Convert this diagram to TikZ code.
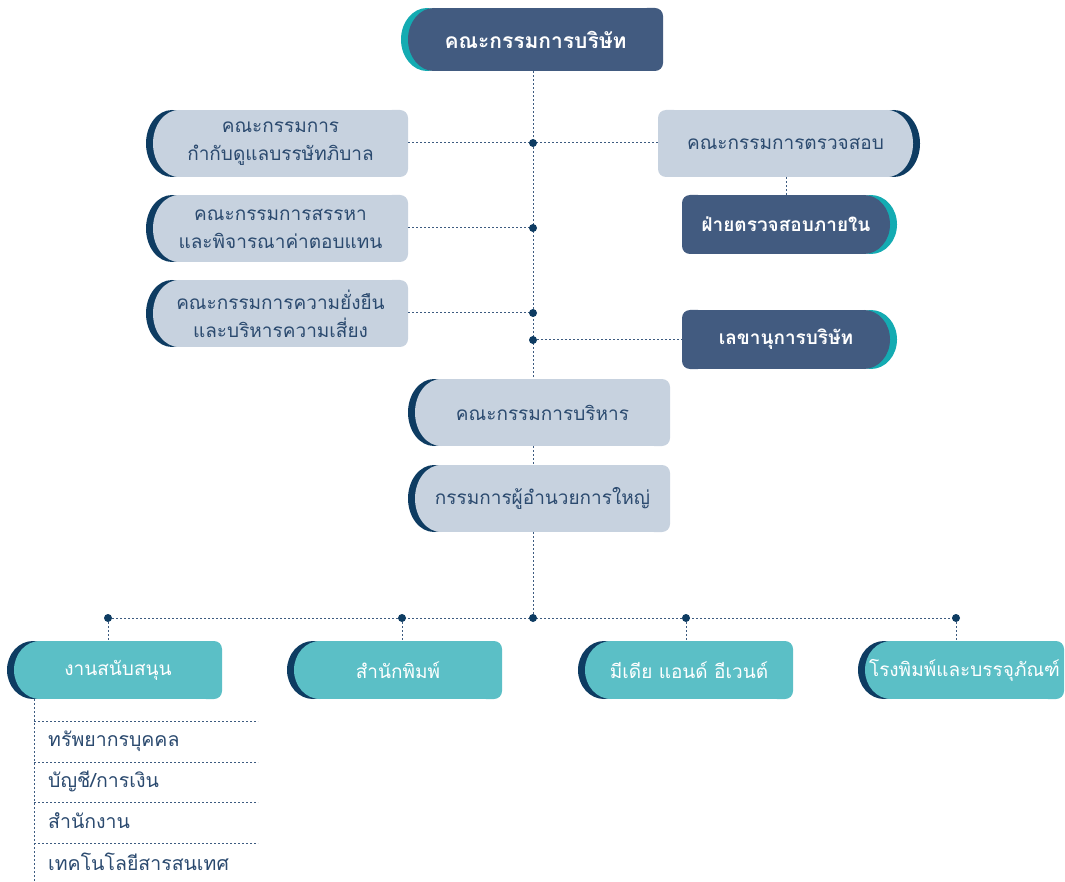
\documentclass[tikz,border=0pt]{standalone}
\usepackage{fontspec}
\setmainfont[Script=Thai]{Loma}

\definecolor{navybox}{HTML}{425B80}
\definecolor{tealedge}{HTML}{14ABB2}
\definecolor{paleblue}{HTML}{C7D2DF}
\definecolor{deepnavy}{HTML}{0E3C62}
\definecolor{tealbox}{HTML}{5BBFC6}
\definecolor{inknavy}{HTML}{2B4A6F}
\definecolor{linkline}{HTML}{3D5B80}

% box with the round side on the left: name, fill, edge, x1, y1, x2, y2, style, text
\newcommand{\leftpill}[9]{%
  \pgfmathsetmacro\pillhh{(#7-#5)/2}%
  \pgfmathsetmacro\pillh{#7-#5}%
  \pgfmathsetmacro\pillw{#6-#4}%
  \pgfmathsetmacro\pillxm{(#4+#6)/2}%
  \pgfmathsetmacro\pillym{(#5+#7)/2}%
  \fill[#3] ({#4+19},\pillym) ellipse [x radius=26pt, y radius=\pillhh pt];
  \fill[#2] ({#4+26},\pillym) ellipse [x radius=26pt, y radius=\pillhh pt];
  \fill[#2] ({#4+26},#5) rectangle ({#6-12},#7);
  \fill[#2, rounded corners=8pt] ({#6-24},#5) rectangle (#6,#7);
  \node[#8, minimum width=\pillw pt, minimum height=\pillh pt] (#1) at (\pillxm,\pillym) {#9};
}
% box with the round side on the right
\newcommand{\rightpill}[9]{%
  \pgfmathsetmacro\pillhh{(#7-#5)/2}%
  \pgfmathsetmacro\pillh{#7-#5}%
  \pgfmathsetmacro\pillw{#6-#4}%
  \pgfmathsetmacro\pillxm{(#4+#6)/2}%
  \pgfmathsetmacro\pillym{(#5+#7)/2}%
  \fill[#3] ({#6-19},\pillym) ellipse [x radius=26pt, y radius=\pillhh pt];
  \fill[#2] ({#6-26},\pillym) ellipse [x radius=26pt, y radius=\pillhh pt];
  \fill[#2] ({#4+12},#5) rectangle ({#6-26},#7);
  \fill[#2, rounded corners=8pt] (#4,#5) rectangle ({#4+24},#7);
  \node[#8, minimum width=\pillw pt, minimum height=\pillh pt] (#1) at (\pillxm,\pillym) {#9};
}

\tikzset{
  boardtext/.style={inner sep=0pt, align=center, text=inknavy, font=\fontsize{19}{28}\selectfont},
  unittext/.style={inner sep=0pt, align=center, text=white, font=\fontsize{19}{23}\selectfont\bfseries},
  branchtext/.style={inner sep=0pt, align=center, text=white, font=\fontsize{19}{23}\selectfont},
  link/.style={draw=linkline, line width=1pt, dash pattern=on 2pt off 2pt},
  joint/.style={circle, fill=deepnavy, inner sep=0pt, minimum size=8pt},
  item/.style={anchor=west, text=inknavy, inner sep=0pt, font=\fontsize{19.5}{23}\selectfont}
}

\begin{document}
\begin{tikzpicture}[x=1pt,y=-1pt]
    \useasboundingbox (0,0) rectangle (1065,882);
    \leftpill{A}{navybox}{tealedge}{408}{8}{663}{71}{unittext, font=\fontsize{21}{25}\selectfont\bfseries}{คณะกรรมการบริษัท}
    \leftpill{B}{paleblue}{deepnavy}{153}{110}{408}{177}{boardtext}{คณะกรรมการ\\กำกับดูแลบรรษัทภิบาล}
    \rightpill{C}{paleblue}{deepnavy}{658}{110}{913}{177}{boardtext}{คณะกรรมการตรวจสอบ}
    \rightpill{D}{navybox}{tealedge}{682}{195}{890}{254}{unittext}{ฝ่ายตรวจสอบภายใน}
    \leftpill{E}{paleblue}{deepnavy}{153}{195}{408}{262}{boardtext}{คณะกรรมการสรรหา\\และพิจารณาค่าตอบแทน}
    \leftpill{F}{paleblue}{deepnavy}{153}{280}{408}{347}{boardtext}{คณะกรรมการความยั่งยืน\\และบริหารความเสี่ยง}
    \rightpill{G}{navybox}{tealedge}{682}{310}{890}{369}{unittext}{เลขานุการบริษัท}
    \leftpill{H}{paleblue}{deepnavy}{415}{379}{670}{446}{boardtext}{คณะกรรมการบริหาร}
    \leftpill{I}{paleblue}{deepnavy}{415}{465}{670}{532}{boardtext}{กรรมการผู้อำนวยการใหญ่}
    \leftpill{J}{tealbox}{deepnavy}{14}{641}{222}{699}{branchtext}{งานสนับสนุน}
    \leftpill{K}{tealbox}{deepnavy}{294}{641}{502}{699}{branchtext}{สำนักพิมพ์}
    \leftpill{L}{tealbox}{deepnavy}{585}{641}{793}{699}{branchtext}{มีเดีย แอนด์ อีเวนต์}
    \leftpill{M}{tealbox}{deepnavy}{865}{641}{1064}{699}{branchtext}{โรงพิมพ์และบรรจุภัณฑ์}
    \node[item] (J1) at (48,741) {ทรัพยากรบุคคล};
    \node[item] (J2) at (48,781) {บัญชี/การเงิน};
    \node[item] (J3) at (48,821) {สำนักงาน};
    \node[item] (J4) at (48,862) {เทคโนโลยีสารสนเทศ};
    % joints on the dotted lines
    \coordinate (d1) at (533,143);
    \coordinate (d2) at (533,228);
    \coordinate (d3) at (533,313);
    \coordinate (d4) at (533,340);
    \coordinate (dm) at (533,618);
    \coordinate (ds) at (108,618);
    \coordinate (dp) at (402,618);
    \coordinate (de) at (686,618);
    \coordinate (dr) at (956,618);
    \coordinate (lst) at (34,882);
    \coordinate (s1) at (34,721);
    \coordinate (s2) at (34,762);
    \coordinate (s3) at (34,802);
    \coordinate (s4) at (34,843);
    \draw[link] (A.south -| d1) -- (d1) -- (d2) -- (d3) -- (d4) -- (d4 |- H.north);
    \draw[link] (H.south -| d1) -- (d1 |- I.north);
    \draw[link] (I.south -| d1) -- (dm);
    \draw[link] (B.east |- d1) -- (d1) -- (C.west |- d1);
    \draw[link] (E.east |- d2) -- (d2);
    \draw[link] (F.east |- d3) -- (d3);
    \draw[link] (d4) -- (G.west |- d4);
    \draw[link] (C.south -| D.north) -- (D.north);
    \draw[link] (ds) -- (dp) -- (dm) -- (de) -- (dr);
    \draw[link] (ds) -- (ds |- J.north);
    \draw[link] (dp) -- (dp |- K.north);
    \draw[link] (de) -- (de |- L.north);
    \draw[link] (dr) -- (dr |- M.north);
    \draw[link] (J.south -| lst) -- (lst);
    \draw[link] (s1) -- ++(224,0);
    \draw[link] (s2) -- ++(224,0);
    \draw[link] (s3) -- ++(224,0);
    \draw[link] (s4) -- ++(224,0);
    \foreach \d in {d1,d2,d3,d4,dm,ds,dp,de,dr}
      \node[joint] at (\d) {};
\end{tikzpicture}
\end{document}
